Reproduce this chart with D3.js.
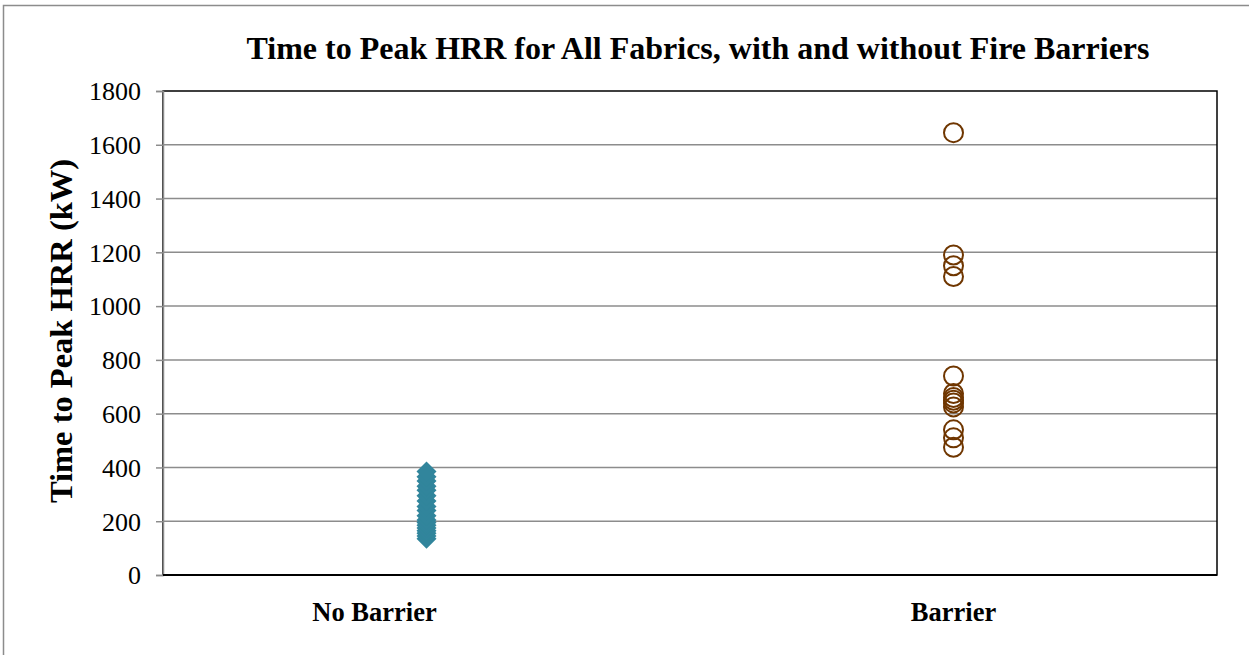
<!DOCTYPE html>
<html><head><meta charset="utf-8">
<script src="https://cdn.jsdelivr.net/npm/d3@7"></script>
<style>body{margin:0;background:#fff}svg{display:block}</style>
</head><body>
<script>
const categories = ["No Barrier", "Barrier"];
const noBarrier = [135, 145, 155, 165, 175, 185, 195, 205, 220, 240, 255, 275, 295, 315, 330, 350, 365, 385];
const barrier = [1645, 1190, 1150, 1110, 740, 675, 660, 650, 640, 625, 540, 510, 475];
const yTicks = [0, 200, 400, 600, 800, 1000, 1200, 1400, 1600, 1800];
const title = "Time to Peak HRR for All Fabrics, with and without Fire Barriers";
const yLabel = "Time to Peak HRR (kW)";

const W = 1249, H = 655;
const m = {l: 163, t: 91, r: 1217, b: 575};
const svg = d3.select("body").append("svg").attr("width", W).attr("height", H);
const font = "'Liberation Serif','Times New Roman',serif";

svg.append("rect").attr("x", 3.5).attr("y", 5.5).attr("width", 1260).attr("height", 670)
  .attr("fill", "#fff").attr("stroke", "#8c8c8c").attr("stroke-width", 1.5);

const x = d3.scalePoint().domain(categories).range([m.l, m.r]).padding(0.5);
const y = d3.scaleLinear().domain([0, 1800]).range([m.b, m.t]);

// gridlines
svg.append("g").selectAll("line").data(yTicks.filter(d => d > 0 && d < 1800)).join("line")
  .attr("x1", m.l).attr("x2", m.r).attr("y1", d => y(d)).attr("y2", d => y(d))
  .attr("stroke", "#8c8c8c").attr("stroke-width", 1.5);

// plot frame
svg.append("rect").attr("x", m.l).attr("y", m.t).attr("width", m.r - m.l).attr("height", m.b - m.t)
  .attr("fill", "none").attr("stroke", "#000").attr("stroke-width", 1.5);

// y axis
const ya = svg.append("g").attr("transform", `translate(${m.l},0)`)
  .call(d3.axisLeft(y).tickValues(yTicks).tickSize(7).tickPadding(15).tickFormat(d3.format("d")));
ya.select(".domain").attr("stroke", "#8c8c8c").attr("stroke-width", 1.5);
ya.selectAll(".tick line").attr("stroke", "#8c8c8c").attr("stroke-width", 1.5);
ya.selectAll(".tick text").attr("font-family", font).attr("font-size", 26).attr("fill", "#000").attr("dy", "0.34em");
// bottom axis line black
svg.append("line").attr("x1", m.l).attr("x2", m.r).attr("y1", m.b).attr("y2", m.b).attr("stroke", "#000").attr("stroke-width", 2);

// diamonds
const diamond = d3.symbol().type(d3.symbolSquare).size(200)();
svg.append("g").selectAll("path").data(noBarrier).join("path")
  .attr("d", diamond)
  .attr("transform", d => `translate(${x("No Barrier")},${y(d)}) rotate(45)`)
  .attr("fill", "#31859c");

// circles
svg.append("g").selectAll("circle").data(barrier).join("circle")
  .attr("cx", x("Barrier")).attr("cy", d => y(d)).attr("r", 9.5)
  .attr("fill", "none").attr("stroke", "#6f3600").attr("stroke-width", 2);

// category labels
const labelX = {"No Barrier": x("No Barrier") - 52, "Barrier": x("Barrier")};
svg.append("g").selectAll("text").data(categories).join("text")
  .attr("x", d => labelX[d]).attr("y", 621).attr("text-anchor", "middle")
  .attr("font-family", font).attr("font-weight", "bold").attr("font-size", 26.5).text(d => d);

svg.append("text").attr("x", 698).attr("y", 59).attr("text-anchor", "middle")
  .attr("font-family", font).attr("font-weight", "bold").attr("font-size", 32).text(title);

svg.append("text").attr("transform", `translate(72,331) rotate(-90)`).attr("text-anchor", "middle")
  .attr("font-family", font).attr("font-weight", "bold").attr("font-size", 32.5).text(yLabel);
</script>
</body></html>
